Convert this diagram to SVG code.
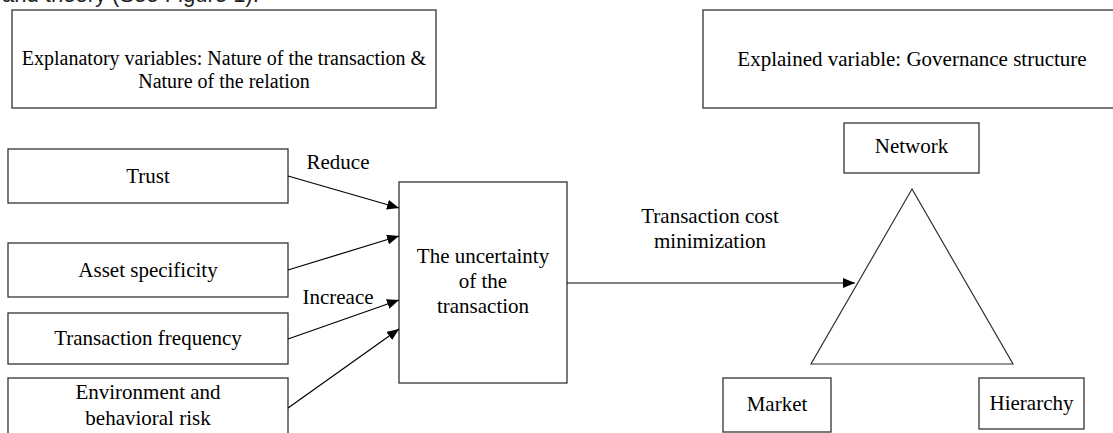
<svg xmlns="http://www.w3.org/2000/svg" width="1113" height="433" viewBox="0 0 1113 433">
<style>
.box{fill:#fff;stroke:#333;stroke-width:1.3}
.t{font-family:"Liberation Serif","Times New Roman",serif;font-size:21px;fill:#000;text-anchor:middle}
.c{stroke:#000;stroke-width:1.2;fill:none}
</style>
<defs>
<marker id="ah" viewBox="0 0 12 10" refX="12" refY="5" markerWidth="12" markerHeight="10" markerUnits="userSpaceOnUse" orient="auto">
<path d="M0,0 L12,5 L0,10 Z" fill="#000"/>
</marker>
</defs>
<rect width="1113" height="433" fill="#fff"/>
<text x="2" y="1.5" style="font-family:'Liberation Sans',Arial,sans-serif;font-size:22px;fill:#222">and theory (See Figure 1).</text>
<g id="explanatory">
<rect class="box" x="12" y="10" width="424" height="98"/>
<text class="t" x="224" y="65" style="font-size:20px">Explanatory variables: Nature of the transaction &amp;</text>
<text class="t" x="224" y="88" style="font-size:20px">Nature of the relation</text>
</g>
<g id="explained">
<rect class="box" x="703" y="10" width="420" height="98"/>
<text class="t" x="912" y="66">Explained variable: Governance structure</text>
</g>
<g id="trust">
<rect class="box" x="8" y="149" width="280" height="54"/>
<text class="t" x="148" y="183">Trust</text>
</g>
<g id="asset">
<rect class="box" x="8" y="243" width="280" height="54"/>
<text class="t" x="148" y="277">Asset specificity</text>
</g>
<g id="frequency">
<rect class="box" x="8" y="313" width="280" height="51"/>
<text class="t" x="148" y="345">Transaction frequency</text>
</g>
<g id="environment">
<rect class="box" x="8" y="378" width="280" height="70"/>
<text class="t" x="148" y="399">Environment and</text>
<text class="t" x="148" y="425">behavioral risk</text>
</g>
<g id="uncertainty">
<rect class="box" x="399" y="182" width="168" height="201"/>
<text class="t" x="483" y="263">The uncertainty</text>
<text class="t" x="483" y="288">of the</text>
<text class="t" x="483" y="313">transaction</text>
</g>
<g id="governance-triangle">
<polygon points="912,189 811,364 1013,364" fill="none" stroke="#333" stroke-width="1.2"/>
</g>
<g id="network">
<rect class="box" x="844" y="123" width="135" height="50"/>
<text class="t" x="911.5" y="153">Network</text>
</g>
<g id="market">
<rect class="box" x="723" y="378" width="108" height="54"/>
<text class="t" x="777" y="411">Market</text>
</g>
<g id="hierarchy">
<rect class="box" x="979" y="378" width="105" height="51"/>
<text class="t" x="1031.5" y="410">Hierarchy</text>
</g>
<g id="connectors">
<line class="c" x1="288" y1="176" x2="399" y2="208" marker-end="url(#ah)"/>
<line class="c" x1="288" y1="270" x2="399" y2="236" marker-end="url(#ah)"/>
<line class="c" x1="288" y1="339" x2="399" y2="300" marker-end="url(#ah)"/>
<line class="c" x1="288" y1="408" x2="399" y2="329" marker-end="url(#ah)"/>
<line class="c" x1="567" y1="283" x2="855" y2="283" marker-end="url(#ah)"/>
<text class="t" x="338" y="169">Reduce</text>
<text class="t" x="338" y="304">Increace</text>
<text class="t" x="710" y="223">Transaction cost</text>
<text class="t" x="710" y="248">minimization</text>
</g>
</svg>
